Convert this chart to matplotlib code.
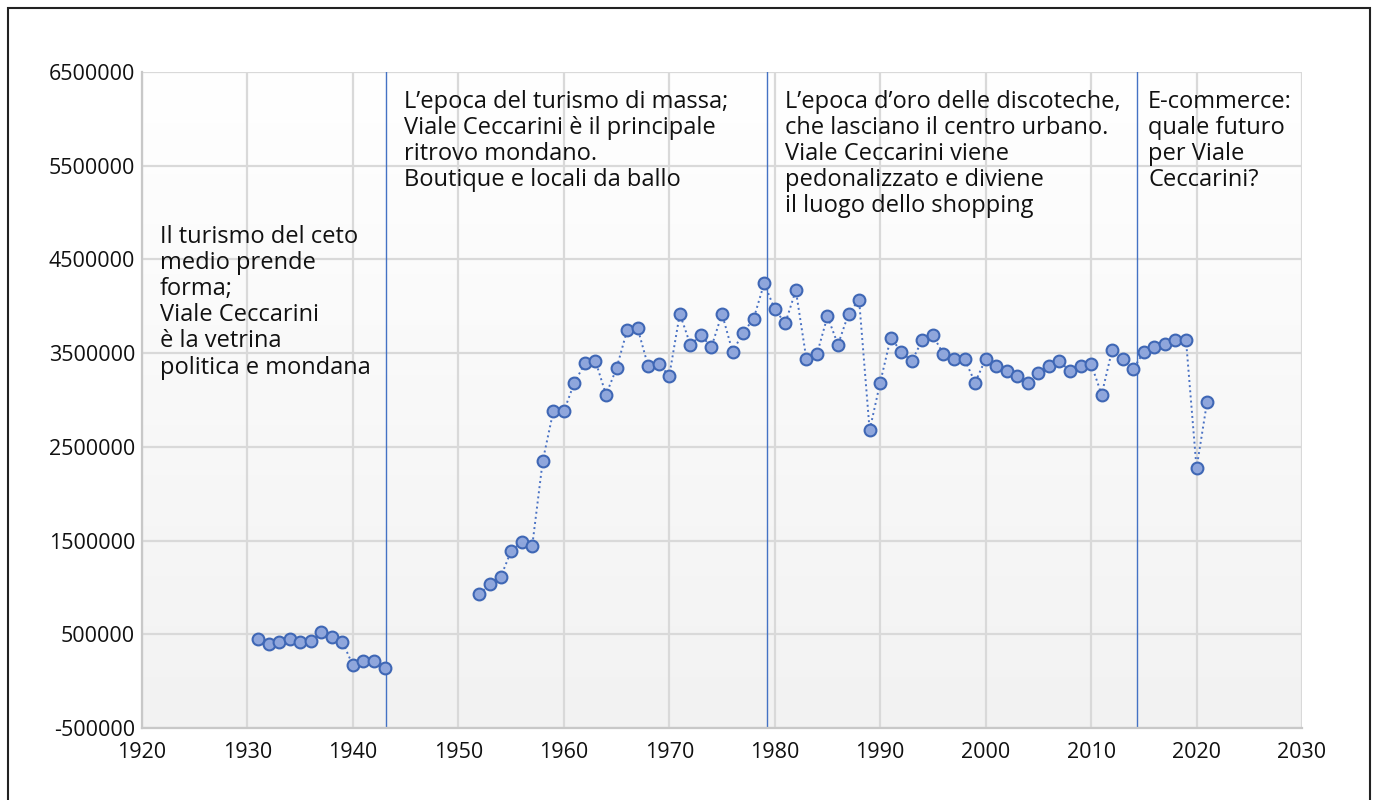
import numpy as np
import matplotlib.pyplot as plt
from matplotlib.patches import Rectangle

plt.rcParams['font.family'] = ['Open Sans', 'DejaVu Sans']

# presenze turistiche per anno
years_a = list(range(1931, 1944))
values_a = [450000, 400000, 421000, 450000, 421000, 425000, 524000, 474000,
            421000, 169000, 218000, 218000, 144000]

years_b = list(range(1952, 2022))
values_b = [930000, 1033000, 1108000, 1386000, 1485000, 1439000, 2349000, 2879000,
            2879000, 3185000, 3390000, 3416000, 3057000, 3338000, 3744000, 3765000,
            3360000, 3384000, 3259000, 3921000, 3590000, 3690000, 3566000, 3921000,
            3515000, 3718000, 3868000, 4245000, 3968000, 3818000, 4171000, 3438000,
            3488000, 3893000, 3590000, 3921000, 4070000, 2677000, 3185000, 3665000,
            3515000, 3416000, 3640000, 3690000, 3488000, 3438000, 3438000, 3185000,
            3438000, 3360000, 3309000, 3259000, 3185000, 3285000, 3360000, 3413000,
            3309000, 3363000, 3387000, 3057000, 3537000, 3438000, 3334000, 3512000,
            3566000, 3594000, 3640000, 3640000, 2271000, 2982000]

epoch_lines = [1943.1, 1979.3, 2014.35]
epoch_text = [
    "Il turismo del ceto\nmedio prende\nforma;\nViale Ceccarini\nè la vetrina\npolitica e mondana",
    "L\u2019epoca del turismo di massa;\nViale Ceccarini è il principale\nritrovo mondano.\nBoutique e locali da ballo",
    "L\u2019epoca d\u2019oro delle discoteche,\nche lasciano il centro urbano.\nViale Ceccarini viene\npedonalizzato e diviene\nil luogo dello shopping",
    "E-commerce:\nquale futuro\nper Viale\nCeccarini?",
]
text_pos = [(1921.7, 4870000), (1944.8, 6310000), (1981.0, 6310000), (2015.4, 6310000)]

fig = plt.figure(figsize=(13.75, 8), dpi=100)
ax = fig.add_axes([142/1375, 72/800, 1160/1375, 656/800])

# sfondo sfumato
grad = np.linspace(0, 1, 256).reshape(-1, 1)
ax.imshow(grad, extent=[0, 1, 0, 1], transform=ax.transAxes, aspect='auto',
          cmap=plt.matplotlib.colors.LinearSegmentedColormap.from_list('g', ['#f2f2f2', '#ffffff']),
          origin='lower', zorder=0)

ax.set_xlim(1920, 2030)
ax.set_ylim(-500000, 6500000)
ax.set_xticks(range(1920, 2031, 10))
ax.set_yticks(range(-500000, 6500001, 1000000))
ax.set_yticklabels([str(v) for v in range(-500000, 6500001, 1000000)])
ax.tick_params(length=0, labelsize=15.5, pad=5, colors='#111111')
ax.tick_params(axis='x', pad=10)
ax.grid(True, color='#d9d9d9', linewidth=1.6)
ax.set_axisbelow(True)
for s in ax.spines.values():
    s.set_visible(False)
ax.spines['left'].set_visible(True)
ax.spines['bottom'].set_visible(True)
ax.spines['left'].set_color('#c8c8c8')
ax.spines['bottom'].set_color('#c8c8c8')
ax.spines['left'].set_linewidth(1.6)
ax.spines['bottom'].set_linewidth(1.6)

for xs, ys in [(years_a, values_a), (years_b, values_b)]:
    ax.plot(xs, ys, linestyle=':', color='#4a72c4', linewidth=1.4,
            marker='o', markersize=8.5, markerfacecolor='#8fa6dc',
            markeredgecolor='#3f67b5', markeredgewidth=1.5, zorder=3)

for x in epoch_lines:
    ax.axvline(x, color='#4472c4', linewidth=1.0, zorder=2)

for (tx, ty), t in zip(text_pos, epoch_text):
    ax.text(tx, ty, t, fontsize=17, va='top', ha='left', linespacing=1.12,
            color='#111111', zorder=4)

fig.patches.append(Rectangle((8/1375, -0.1), 1362/1375, 1.1 - 8/800,
                             transform=fig.transFigure, fill=False,
                             edgecolor='#222222', linewidth=1.5))

fig.savefig('out.png', dpi=100)
